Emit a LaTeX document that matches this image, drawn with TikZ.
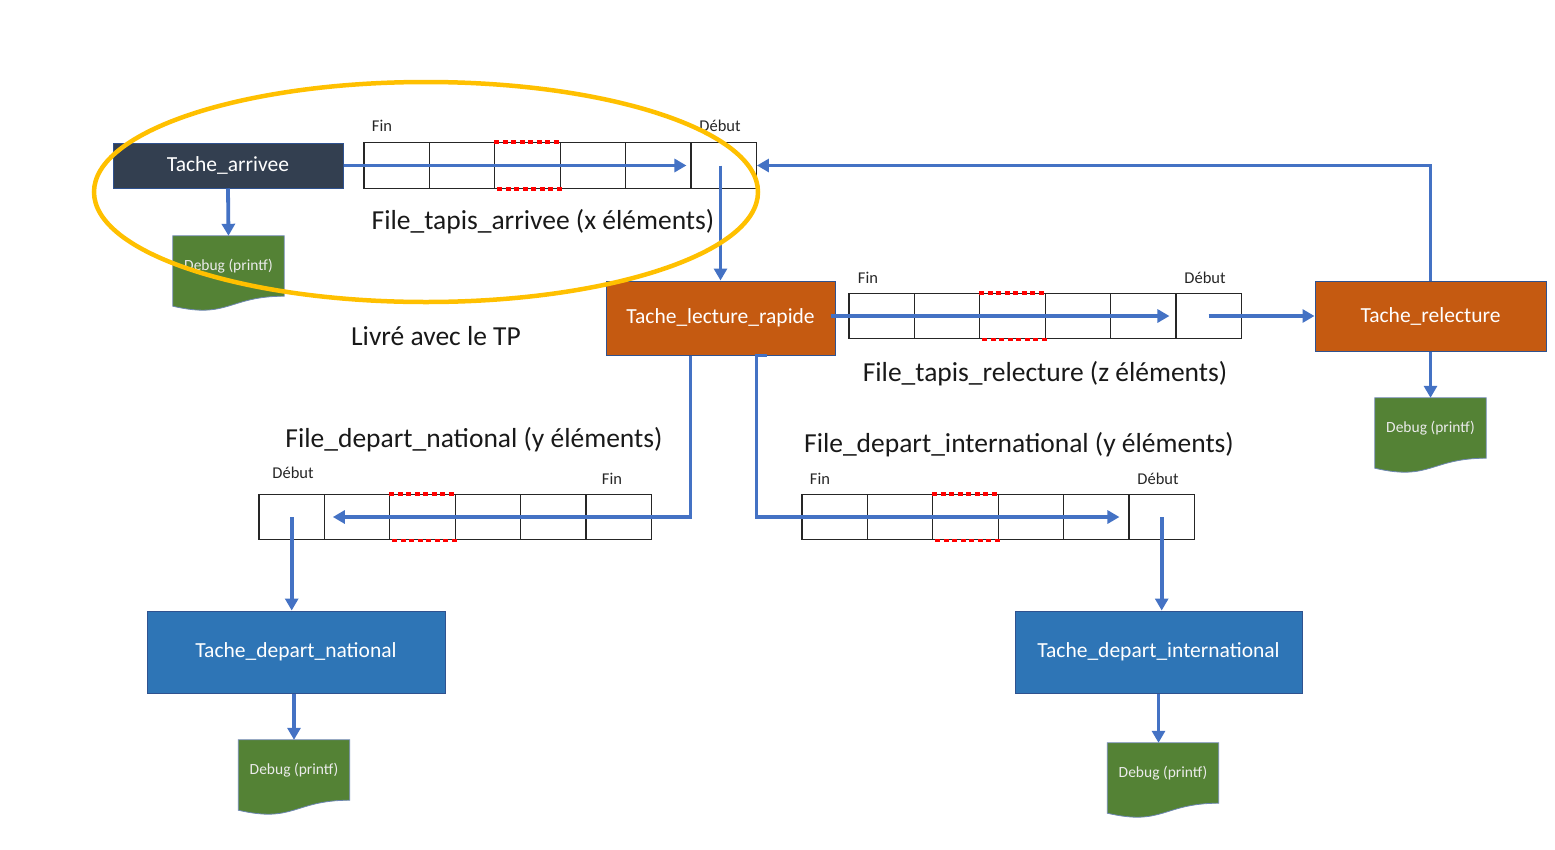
\documentclass[tikz,border=0pt]{standalone}
\usepackage{fontspec}
\setmainfont{Carlito}
\usetikzlibrary{arrows.meta,calc,backgrounds}
\definecolor{navy}{HTML}{333F50}
\definecolor{rust}{HTML}{C55A11}
\definecolor{blu}{HTML}{2E75B6}
\definecolor{grn}{HTML}{548235}
\definecolor{arrowblue}{HTML}{4472C4}
\definecolor{gold}{HTML}{FFC000}
\definecolor{edgeblue}{HTML}{2F528F}
\tikzset{
  task/.style={draw=edgeblue, line width=1pt, text=white, inner sep=0pt,
    font=\fontsize{21.5}{26}\selectfont},
  cell/.style={draw=black!85, line width=1.1pt, minimum width=65.4pt,
    minimum height=45.5pt, inner sep=0pt},
  flow/.style={draw=arrowblue, line width=3.8pt, -{Triangle[length=12pt,width=13pt]}},
  docbox/.style={minimum width=111pt, minimum height=60pt, inner sep=0pt,
    text=white!92!black, font=\fontsize{15.5}{18}\selectfont},
  endlabel/.style={font=\fontsize{16.5}{20}\selectfont, text=black!85, inner sep=0pt},
  qlabel/.style={font=\fontsize{27.5}{33}\selectfont, text=black!90, inner sep=0pt},
  reddots/.style={draw=red, line width=3.6pt, dash pattern=on 5pt off 3.5pt},
}
\newcommand\mydocshape[1]{%
  \filldraw[fill=grn, draw=edgeblue!70, line width=0.8pt]
    (#1.north west) -- (#1.north east) -- (#1.south east)
    .. controls (#1.south) and ($(#1.south)+(0,23)$) ..
    ($(#1.south west)+(0,10)$) -- cycle;}
\begin{document}
\begin{tikzpicture}[x=1pt,y=-1pt]
\useasboundingbox (0,0) rectangle (1555,849);

% task boxes
\node[task, fill=navy, minimum width=230pt, minimum height=45pt] (arr) at (228,165.5) {Tache\_arrivee};
\node[task, fill=rust, minimum width=229pt, minimum height=74pt] (lec) at (720.5,318) {Tache\_lecture\_rapide};
\node[task, fill=rust, minimum width=231pt, minimum height=70pt] (rel) at (1430.5,316) {Tache\_relecture};
\node[task, fill=blu, minimum width=298pt, minimum height=82pt] (nat) at (296,652) {Tache\_depart\_national};
\node[task, fill=blu, minimum width=287pt, minimum height=82pt] (intl) at (1158.5,652) {Tache\_depart\_international};

% debug boxes
\node[docbox] (dbg1) at (228.5,266) {Debug (printf)};
\node[docbox] (dbg3) at (1430.5,428) {Debug (printf)};
\node[docbox] (dbg4) at (294,770) {Debug (printf)};
\node[docbox] (dbg5) at (1163,773) {Debug (printf)};
\begin{scope}[on background layer]
  \mydocshape{dbg1}
  \mydocshape{dbg3}
  \mydocshape{dbg4}
  \mydocshape{dbg5}
\end{scope}

% queues
\foreach \i in {1,...,6} {
  \node[cell] (q1c\i) at ({364+65.4*(\i-0.5)},165.5) {};
  \node[cell] (q2c\i) at ({849+65.4*(\i-0.5)},316) {};
  \node[cell] (q3c\i) at ({259+65.4*(\i-0.5)},517) {};
  \node[cell] (q4c\i) at ({802+65.4*(\i-0.5)},517) {};
}
\foreach \q in {q1,q2,q3,q4} {
  \draw[reddots] (\q c3.north west) -- (\q c3.north east);
  \draw[reddots] ($(\q c3.south west)+(3,0)$) -- ($(\q c3.south east)+(3,0)$);
}

% end labels
\node[endlabel] (q1fin) at (382,126) {Fin};
\node[endlabel] (q1deb) at (720,126) {Début};
\node[endlabel] (q2fin) at (868,278) {Fin};
\node[endlabel] (q2deb) at (1205,278) {Début};
\node[endlabel] (q3deb) at (293,473) {Début};
\node[endlabel] (q3fin) at (612,479) {Fin};
\node[endlabel] (q4fin) at (820,479) {Fin};
\node[endlabel] (q4deb) at (1158,479) {Début};

% queue labels
\node[qlabel] (l1) at (543,222) {File\_tapis\_arrivee (x éléments)};
\node[qlabel] (l2) at (1045,374) {File\_tapis\_relecture (z éléments)};
\node[qlabel] (l3) at (474,440) {File\_depart\_national (y éléments)};
\node[qlabel] (l4) at (1019,445) {File\_depart\_international (y éléments)};
\node[qlabel] (tp) at (436,336) {Livré avec le TP};

% connectors
\draw[flow] (arr.east) -- ($(q1c6.west)+(-4,0)$);
\draw[flow] (arr.south) -- (dbg1.north);
\draw[flow] (q1c6.center -| lec.north) -- (lec.north);
\draw[flow] ($(lec.east|-q2c1.center)+(-5,0)$) -- ($(q2c6.west)+(-6,0)$);
\draw[flow] (q2c6.center) -- (q2c6.center -| rel.west);
\draw[flow] (rel.north) |- (q1c6.east);
\draw[flow] (rel.south) -- (rel.south |- dbg3.north);
\draw[flow] ($(lec.south west)+(85,0)$) |- ($(q3c2.west)+(9,0)$);
\draw[flow] ($(lec.south west)+(161,0)$) -- ($(lec.south west)+(151,0)$) |- ($(q4c6.west)+(-9,0)$);
\draw[flow] (q3c1.center) -- (q3c1.center |- nat.north);
\draw[flow] (dbg4.north |- nat.south) -- (dbg4.north);
\draw[flow] (q4c6.center) -- (q4c6.center |- intl.north);
\draw[flow] (intl.south) -- (intl.south |- dbg5.north);

% highlight ellipse
\draw[gold, line width=4.5pt] (426,192) ellipse [x radius=332, y radius=110];
\end{tikzpicture}
\end{document}
